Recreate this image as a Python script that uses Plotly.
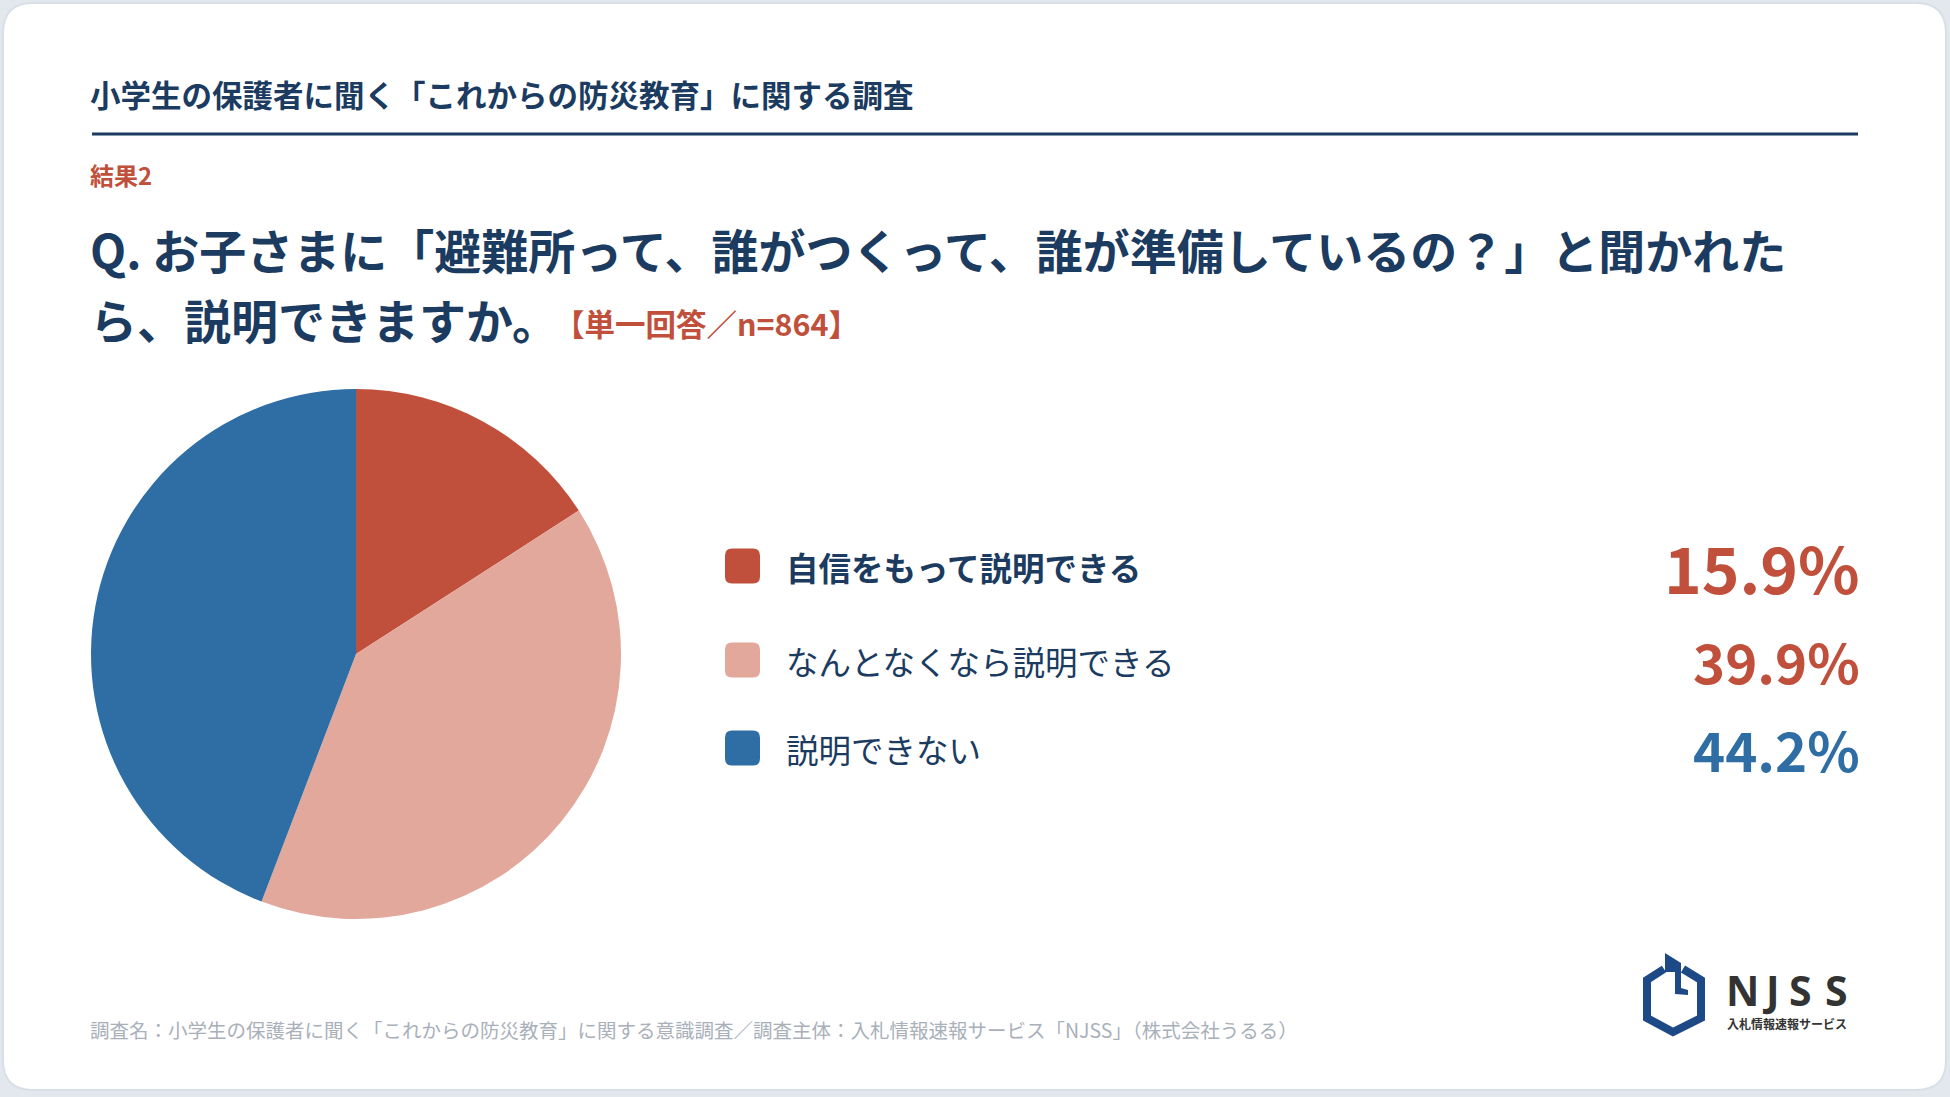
import plotly.graph_objects as go

# survey answers (single answer, n=864)
answers = ["自信をもって説明できる", "なんとなくなら説明できる", "説明できない"]
shares = [15.9, 39.9, 44.2]
slice_colors = ["#c0503b", "#e2a89b", "#2f6ea5"]

header = "小学生の保護者に聞く「これからの防災教育」に関する調査"
result_no = "結果2"
question_1 = "Q. お子さまに「避難所って、誰がつくって、誰が準備しているの？」と聞かれた"
question_2 = "ら、説明できますか。"
note = "【単一回答／n=864】"
source = ("調査名：小学生の保護者に聞く「これからの防災教育」に関する意識調査／"
          "調査主体：入札情報速報サービス「NJSS」（株式会社うるる）")

W, H = 1950, 1097
NAVY = "#1b3b60"
RED = "#c0503b"
FONT = "Noto Sans CJK JP"

# layout bits for the legend rows
row_y = [566, 660, 748]
pct_size = [64, 54.5, 54.5]
pct_color = [RED, RED, "#2f6ea5"]
label_weight = ["bold", "normal", "normal"]

cx, cy, r = 356, 654, 265

fig = go.Figure()
fig.add_trace(go.Pie(
    labels=answers,
    values=shares,
    marker=dict(colors=slice_colors, line=dict(width=0)),
    sort=False,
    direction="clockwise",
    rotation=0,
    textinfo="none",
    hovertemplate="%{label}: %{value}%<extra></extra>",
    domain=dict(x=[(cx - r) / W, (cx + r) / W],
                y=[(H - cy - r) / H, (H - cy + r) / H]),
    showlegend=False,
))


def rounded_rect(x0, y0, x1, y1, rad):
    return (f"M {x0+rad},{y0} L {x1-rad},{y0} Q {x1},{y0} {x1},{y0+rad} "
            f"L {x1},{y1-rad} Q {x1},{y1} {x1-rad},{y1} L {x0+rad},{y1} "
            f"Q {x0},{y1} {x0},{y1-rad} L {x0},{y0+rad} Q {x0},{y0} {x0+rad},{y0} Z")


shapes = [
    dict(type="path", path=rounded_rect(3, 3, 1946, 1090, 30), xref="x", yref="y",
         fillcolor="white", line=dict(color="#d9dfe7", width=2), layer="below"),
    dict(type="line", x0=92, x1=1858, y0=134, y1=134, xref="x", yref="y",
         line=dict(color=NAVY, width=3)),
]

annotations = [
    dict(x=88, y=94, text=header, font=dict(size=30.5, color=NAVY, weight="bold")),
    dict(x=88, y=174, text=result_no, font=dict(size=24, color=RED, weight="bold")),
    dict(x=88, y=248, text=question_1, font=dict(size=47, color=NAVY, weight="bold")),
    dict(x=88, y=318, text=question_2, font=dict(size=47, color=NAVY, weight="bold")),
    dict(x=552, y=323, text=note, font=dict(size=30.5, color=RED, weight="bold")),
    dict(x=88, y=1029, text=source, font=dict(size=19.5, color="#a9b0ba")),
]

for i, (lab, val) in enumerate(zip(answers, shares)):
    y = row_y[i]
    shapes.append(dict(type="path", path=rounded_rect(725, y - 17.5, 760, y + 17.5, 7),
                       xref="x", yref="y", fillcolor=slice_colors[i], line=dict(width=0)))
    annotations.append(dict(x=784, y=y, text=lab,
                            font=dict(size=32.5, color=NAVY, weight=label_weight[i])))
    annotations.append(dict(x=1862, y=y, text=f"{val:.1f}%", xanchor="right",
                            font=dict(size=pct_size[i], color=pct_color[i], weight="bold")))

# NJSS logo
LOGO = "#1d4a86"
shapes.append(dict(type="path", xref="x", yref="y",
                   path="M 1664,969 L 1647,980 L 1647,1018 L 1673,1032 L 1701,1018 L 1701,980 L 1683,969",
                   line=dict(color=LOGO, width=8), fillcolor="rgba(0,0,0,0)"))
shapes.append(dict(type="path", xref="x", yref="y",
                   path="M 1665,953 L 1681,963 L 1681,988 L 1688,990 L 1688,995 L 1675,994 L 1675,972 L 1665,972 Z",
                   line=dict(width=0), fillcolor=LOGO))
for ch, x in zip("NJSS", [1742, 1771, 1800, 1836]):
    annotations.append(dict(x=x, y=990, text=ch, xanchor="center",
                            font=dict(family="Noto Sans, " + FONT, size=41, color="#333333", weight="bold")))
annotations.append(dict(x=1787, y=1023, text="入札情報速報サービス", xanchor="center",
                        font=dict(size=12, color="#333333", weight="bold")))

for a in annotations:
    a.setdefault("xanchor", "left")
    a.update(xref="x", yref="y", yanchor="middle", showarrow=False)
    a["font"].setdefault("family", FONT)

fig.update_layout(
    width=W, height=H,
    margin=dict(l=0, r=0, t=0, b=0),
    paper_bgcolor="#e3e8ee",
    plot_bgcolor="rgba(0,0,0,0)",
    xaxis=dict(range=[0, W], visible=False, fixedrange=True),
    yaxis=dict(range=[H, 0], visible=False, fixedrange=True),
    shapes=shapes,
    annotations=annotations,
    font=dict(family=FONT),
)

# page body has a default 8px margin; drop it so the card fills the window
fig.write_html("out.html", config={"displayModeBar": False},
               post_script="document.body.style.margin='0';")
